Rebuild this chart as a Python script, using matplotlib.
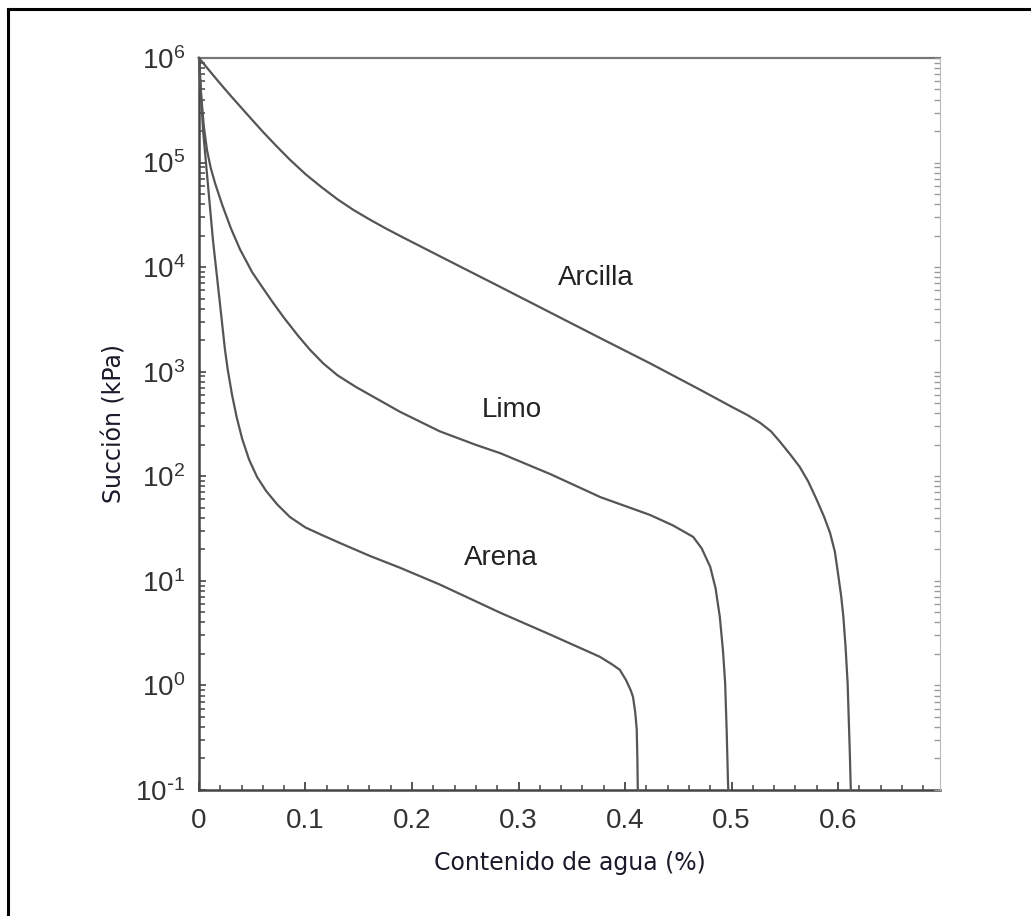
import numpy as np
import matplotlib
matplotlib.use('Agg')
import matplotlib.pyplot as plt
from matplotlib.lines import Line2D
from matplotlib.ticker import FixedLocator, MultipleLocator, LogLocator, FuncFormatter, NullFormatter

plt.rcParams['font.family'] = ['Liberation Sans', 'DejaVu Sans']
plt.rcParams['axes.unicode_minus'] = False

# contenido de agua (-) and log10 of succion (kPa)
arcilla_w = [0.0, 0.01, 0.02, 0.03, 0.045, 0.06, 0.0725, 0.085, 0.10, 0.115,
             0.13, 0.145, 0.16, 0.175, 0.19, 0.236, 0.283, 0.33, 0.377, 0.4235,
             0.47, 0.50, 0.515, 0.527, 0.537, 0.5455, 0.555, 0.564, 0.572, 0.58,
             0.587, 0.5925, 0.597, 0.600, 0.603, 0.605, 0.607, 0.609, 0.610, 0.611,
             0.612]
arcilla_log = [6.0, 5.876, 5.754, 5.636, 5.464, 5.294, 5.16, 5.031, 4.889, 4.765,
               4.649, 4.547, 4.457, 4.372, 4.292, 4.053, 3.81, 3.565, 3.32, 3.08,
               2.83, 2.665, 2.585, 2.51, 2.43, 2.33, 2.21, 2.09, 1.95, 1.775,
               1.61, 1.459, 1.28, 1.07, 0.85, 0.656, 0.38, 0.025, -0.3, -0.62,
               -1.0]

limo_w = [0.0, 0.002, 0.0045, 0.0075, 0.011, 0.015, 0.022, 0.03, 0.0385, 0.05,
          0.06, 0.0695, 0.08, 0.093, 0.104, 0.1167, 0.13, 0.147, 0.1637, 0.189,
          0.226, 0.26, 0.283, 0.33, 0.377, 0.4235, 0.445, 0.464, 0.472, 0.480,
          0.485, 0.489, 0.492, 0.494, 0.4955, 0.4967, 0.497]
limo_log = [6.0, 5.65, 5.35, 5.12, 4.95, 4.805, 4.59, 4.37, 4.17, 3.95,
            3.80, 3.66, 3.513, 3.344, 3.212, 3.079, 2.966, 2.856, 2.76, 2.615,
            2.43, 2.30, 2.22, 2.02, 1.80, 1.63, 1.53, 1.42, 1.31, 1.134,
            0.93, 0.656, 0.33, 0.025, -0.45, -0.93, -1.0]

arena_w = [0.0, 0.0038, 0.0131, 0.0197, 0.0244, 0.027, 0.031, 0.0355, 0.0405, 0.047,
           0.0545, 0.063, 0.0735, 0.0854, 0.10, 0.115, 0.132, 0.16, 0.189, 0.226,
           0.283, 0.33, 0.3765, 0.388, 0.395, 0.401, 0.4055, 0.4075, 0.4095, 0.411,
           0.4116, 0.412]
arena_log = [6.0, 5.31, 4.26, 3.65, 3.21, 3.02, 2.78, 2.56, 2.36, 2.16,
             1.994, 1.86, 1.73, 1.61, 1.51, 1.44, 1.363, 1.24, 1.124, 0.965,
             0.694, 0.485, 0.273, 0.20, 0.15, 0.05, -0.05, -0.11, -0.25, -0.42,
             -0.7, -1.0]

labels = ['Arcilla', 'Limo', 'Arena']
label_w = [0.373, 0.294, 0.283]
label_log = [3.90, 2.635, 1.22]

x_ticks = [0, 0.1, 0.2, 0.3, 0.4, 0.5, 0.6]
x_ticklabels = ['0', '0.1', '0.2', '0.3', '0.4', '0.5', '0.6']


def pow_label(v, _):
    e = int(round(np.log10(v)))
    if e < 0:
        return r'$\mathregular{10^{\text{-}%d}}$' % (-e)
    return r'$\mathregular{10^{%d}}$' % e


fig = plt.figure(figsize=(10.31, 9.16), dpi=100)
ax = fig.add_axes([0.193, 0.1376, 0.719, 0.7991])

line_col = '#555555'
for w, lg in [(arcilla_w, arcilla_log), (limo_w, limo_log), (arena_w, arena_log)]:
    ax.plot(w, 10.0 ** np.array(lg), color=line_col, lw=1.6, clip_on=False, zorder=3,
            solid_joinstyle='round')

for txt, w, lg in zip(labels, label_w, label_log):
    ax.text(w, 10.0 ** lg, txt, fontsize=20, color='#222222', ha='center', va='center')

ax.set_yscale('log')
ax.set_ylim(1e-1, 1e6)
ax.set_xlim(0, 0.696)

ax.xaxis.set_major_locator(FixedLocator(x_ticks))
ax.set_xticklabels(x_ticklabels)
ax.xaxis.set_minor_locator(MultipleLocator(0.02))
ax.yaxis.set_major_locator(LogLocator(base=10, numticks=20))
ax.yaxis.set_minor_locator(LogLocator(base=10, subs=np.arange(2, 10), numticks=20))
ax.yaxis.set_minor_formatter(NullFormatter())
ax.yaxis.set_major_formatter(FuncFormatter(pow_label))

ax.tick_params(axis='both', which='both', direction='in', colors='#444444', labelcolor='#333333',
               labelsize=20)
ax.tick_params(axis='x', which='major', length=6, width=1.3, pad=13)
ax.tick_params(axis='x', which='minor', length=3.5, width=1.1)
ax.tick_params(axis='y', which='major', length=5, width=1.2, pad=10)
ax.tick_params(axis='y', which='minor', length=4, width=1.1)

# faint right-hand axis with the same log ticks
ax2 = ax.twinx()
ax2.set_yscale('log')
ax2.set_ylim(ax.get_ylim())
ax2.yaxis.set_major_locator(LogLocator(base=10, numticks=20))
ax2.yaxis.set_minor_locator(LogLocator(base=10, subs=np.arange(2, 10), numticks=20))
ax2.yaxis.set_major_formatter(NullFormatter())
ax2.yaxis.set_minor_formatter(NullFormatter())
ax2.tick_params(axis='y', which='both', direction='in', colors='#999999', length=4, width=1.0)
for side in ['left', 'top', 'bottom']:
    ax2.spines[side].set_visible(False)
ax2.spines['right'].set_color('#bbbbbb')
ax2.spines['right'].set_linewidth(0.8)
ax.spines['right'].set_visible(False)

ax.spines['left'].set_color('#444444')
ax.spines['left'].set_linewidth(1.8)
ax.spines['bottom'].set_color('#444444')
ax.spines['bottom'].set_linewidth(1.8)
ax.spines['top'].set_color('#777777')
ax.spines['top'].set_linewidth(1.6)

ax.set_xlabel('Contenido de agua (%)', family='DejaVu Sans', fontsize=17, color='#1a1a2a', labelpad=12)
ax.set_ylabel('Succión (kPa)', family='DejaVu Sans', fontsize=17, color='#1a1a2a', labelpad=6)

# outer frame (left and top edges)
fig.add_artist(Line2D([0.0075, 0.0075], [0.0, 0.990], transform=fig.transFigure, color='black', lw=2.2))
fig.add_artist(Line2D([0.0075, 1.0], [0.990, 0.990], transform=fig.transFigure, color='black', lw=2.2))

fig.savefig('out.png', dpi=100)
